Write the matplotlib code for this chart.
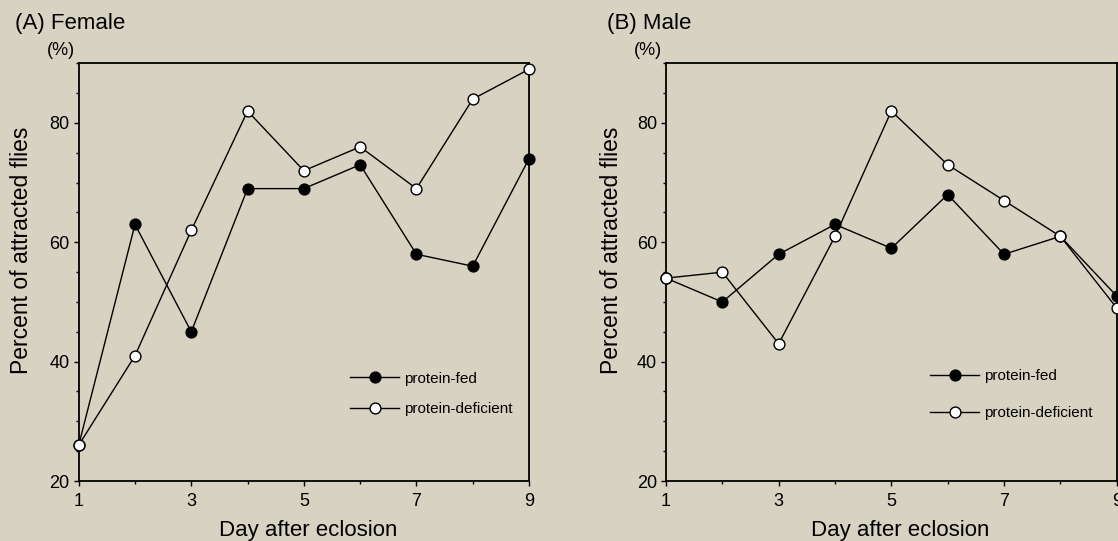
import matplotlib
matplotlib.use("Agg")
import matplotlib.pyplot as plt
from matplotlib.ticker import MultipleLocator

# data
days = [1, 2, 3, 4, 5, 6, 7, 8, 9]
female_fed = [26, 63, 45, 69, 69, 73, 58, 56, 74]
female_deficient = [26, 41, 62, 82, 72, 76, 69, 84, 89]
male_fed = [54, 50, 58, 63, 59, 68, 58, 61, 51]
male_deficient = [54, 55, 43, 61, 82, 73, 67, 61, 49]
series_labels = ["protein-fed", "protein-deficient"]
panel_titles = ["(A) Female", "(B) Male"]
xticks = [1, 3, 5, 7, 9]
yticks = [20, 40, 60, 80]

W, H = 1118, 541
BG = "#d8d2c3"
plt.rcParams["font.family"] = ["Liberation Sans", "DejaVu Sans"]


def fx(x):
    return x / W


def fy(y):
    return 1 - y / H


fig = plt.figure(figsize=(W / 100, H / 100), dpi=100, facecolor=BG)

# axes boxes in pixels: left, right, top, bottom
boxes = [(78.7, 529.0, 63.3, 481.0), (666.0, 1116.7, 63.3, 481.0)]
panels = [(female_fed, female_deficient), (male_fed, male_deficient)]
# legend anchor (axes fraction) and row spacing per panel
legend_pos = [(0.603, 0.262), (0.586, 0.268)]
legend_spacing = [1.1, 1.5]

for i, (box, (fed, deficient)) in enumerate(zip(boxes, panels)):
    l, r, t, b = box
    ax = fig.add_axes([fx(l), fy(b), (r - l) / W, (b - t) / H])
    ax.set_facecolor(BG)

    ax.plot(days, fed, color="black", lw=1.0, marker="o", ms=7.8,
            mfc="black", mec="black", mew=1.0, label=series_labels[0],
            clip_on=False, zorder=3)
    ax.plot(days, deficient, color="black", lw=1.0, marker="o", ms=7.8,
            mfc="white", mec="black", mew=1.0, label=series_labels[1],
            clip_on=False, zorder=4)

    ax.set_xlim(1, 9)
    ax.set_ylim(20, 90)
    ax.set_xticks(xticks)
    ax.set_yticks(yticks)
    ax.xaxis.set_minor_locator(MultipleLocator(1))
    ax.yaxis.set_minor_locator(MultipleLocator(5))
    ax.tick_params(which="major", direction="out", length=3.5, width=1.0,
                   labelsize=13, pad=3)
    ax.tick_params(axis="x", which="major", pad=5)
    ax.tick_params(which="minor", direction="out", length=2.5, width=1.0)
    for sp in ax.spines.values():
        sp.set_linewidth(1.3)

    ax.legend(loc="upper left", bbox_to_anchor=legend_pos[i],
              frameon=False, fontsize=11, handlelength=3.2,
              handletextpad=0.35, labelspacing=legend_spacing[i],
              borderpad=0, borderaxespad=0)

    # panel texts
    fig.text(fx(l - 64 + (0 if i == 0 else 5)), fy(29.5), panel_titles[i],
             fontsize=16, ha="left", va="baseline")
    fig.text(fx(l - 32), fy(55), "(%)", fontsize=13, ha="left", va="baseline")
    fig.text(fx(l - 57 if i == 0 else l - 54), fy(250),
             "Percent of attracted flies", fontsize=16.5, rotation=90,
             ha="center", va="center")
    fig.text(fx((l + r) / 2 + (4 if i == 0 else 9)), fy(536),
             "Day after eclosion", fontsize=16, ha="center", va="baseline")

fig.savefig("out.png", dpi=100, facecolor=BG)
